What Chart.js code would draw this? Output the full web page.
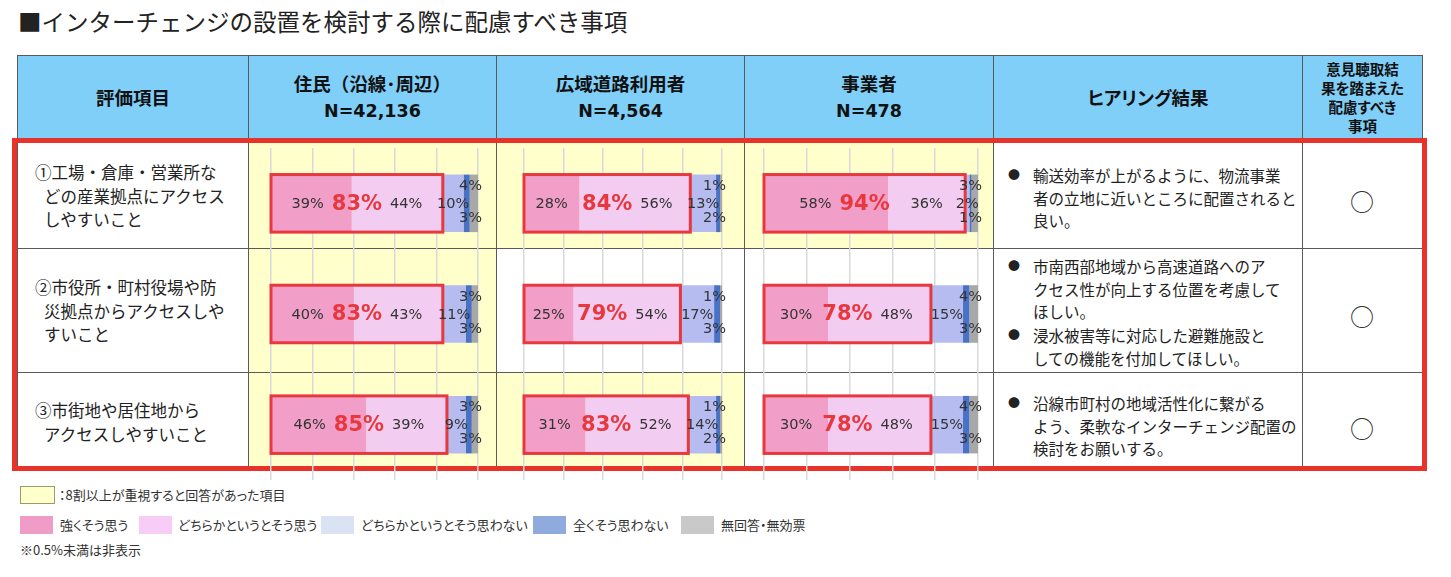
<!DOCTYPE html>
<html lang="ja">
<head>
<meta charset="utf-8">
<script src="https://cdn.jsdelivr.net/npm/chart.js@4.4.1/dist/chart.umd.min.js"></script>
<style>
body { margin: 0; background: #fff; font-family: "Noto Sans CJK JP", sans-serif; color: #222; }
#page { position: relative; width: 1451px; height: 577px; overflow: hidden; }
.abs { position: absolute; box-sizing: border-box; }
.head { background: #80CFF8; border: 1px solid #5a5a5a; display: flex; align-items: center; justify-content: center;
        text-align: center; font-weight: bold; font-size: 18.5px; line-height: 26px; color: #111; }
.head .n { font-family: "DejaVu Sans", sans-serif; font-size: 17.5px; }
.head .p { font-feature-settings: "palt"; }
.cell { border: 1px solid #5a5a5a; }
.item { font-size: 16.5px; line-height: 23.5px; color: #222; white-space: nowrap; }
.note { font-size: 15.5px; line-height: 22.5px; color: #222; white-space: nowrap; padding-left: 25px; }
.note .dot { position: absolute; left: 0; font-size: 12px; }
.lg { font-size: 13px; color: #333; font-feature-settings: "palt"; white-space: nowrap; line-height: 18px; }
canvas { position: absolute; }
</style>
</head>
<body>
<div id="page"></div>
<script>
// 回答者区分・評価項目
const groups = ['住民（沿線･周辺）', '広域道路利用者', '事業者'];
const groupN = ['N=42,136', 'N=4,564', 'N=478'];
const responses = ['強くそう思う', 'どちらかというとそう思う', 'どちらかというとそう思わない', '全くそう思わない', '無回答・無効票'];
const itemLabels = [
    ['①工場・倉庫・営業所な', 'どの産業拠点にアクセス', 'しやすいこと'],
    ['②市役所・町村役場や防', '災拠点からアクセスしや', 'すいこと'],
    ['③市街地や居住地から', 'アクセスしやすいこと']
];

// 回答割合 (%)  行 = 回答, 列 = 評価項目①②③
const residentValues = [
    [39, 40, 46],
    [44, 43, 39],
    [10, 11, 9],
    [3, 3, 3],
    [4, 3, 3]
];
const roadUserValues = [
    [28, 25, 31],
    [56, 54, 52],
    [13, 17, 14],
    [2, 3, 2],
    [1, 1, 1]
];
const businessValues = [
    [58, 30, 30],
    [36, 48, 48],
    [2, 15, 15],
    [1, 3, 3],
    [3, 4, 4]
];
const groupValues = [residentValues, roadUserValues, businessValues];

// ヒアリング結果・配慮事項
const hearingNotes = [
    [['輸送効率が上がるように、物流事業', '者の立地に近いところに配置されると', '良い。']],
    [['市南西部地域から高速道路へのア', 'クセス性が向上する位置を考慮して', 'ほしい。'], ['浸水被害等に対応した避難施設と', 'しての機能を付加してほしい。']],
    [['沿線市町村の地域活性化に繋がる', 'よう、柔軟なインターチェンジ配置の', '検討をお願いする。']]
];
const considerMarks = ['○', '○', '○'];
const threshold = 80; // 8割以上で黄色

const barColors = ['#F19EC9', '#F2CDF1', '#B6BCF0', '#4A72C4', '#A8A8A8'];
const legendColors = ['#F09CC8', '#F7CCF7', '#DAE3F3', '#8FAADC', '#C9C9C9'];

// レイアウト
const colX = [17, 248, 496, 744, 993, 1302, 1422];
const rowY = [138, 248, 372, 468];
const chartBoxes = [[267, 215], [520, 206], [760, 222]];
const itemTops = [161, 276, 399];
const noteTops = [[164], [255, 324], [392]];
const markTops = [183, 298, 410];

const page = document.getElementById('page');
function div(cls, x, y, w, h, html) {
    const d = document.createElement('div');
    d.className = 'abs ' + (cls || '');
    d.style.left = x + 'px'; d.style.top = y + 'px';
    if (w != null) d.style.width = w + 'px';
    if (h != null) d.style.height = h + 'px';
    if (html != null) d.innerHTML = html;
    page.appendChild(d);
    return d;
}

div('', 18, 4, null, null, '■インターチェンジの設置を検討する際に配慮すべき事項').style.cssText += 'font-size:23.5px;color:#222;white-space:nowrap;';

// ヘッダ
const headers = [
    '評価項目',
    groups[0] + '<br><span class="n">' + groupN[0] + '</span>',
    groups[1] + '<br><span class="n">' + groupN[1] + '</span>',
    groups[2] + '<br><span class="n">' + groupN[2] + '</span>',
    '<span class="p">ヒアリング結果</span>',
    '<span class="p" style="font-size:14.5px;line-height:19px;display:block">意見聴取結<br>果を踏まえた<br>配慮すべき<br>事項</span>'
];
headers.forEach((h, c) => div('head', colX[c], 55, colX[c + 1] - colX[c] + 1, 84, '<div>' + h + '</div>'));

// 本体セル
for (let r = 0; r < 3; r++) {
    for (let c = 0; c < 6; c++) {
        const cell = div('cell', colX[c], rowY[r], colX[c + 1] - colX[c] + 1, rowY[r + 1] - rowY[r] + 1);
        if (c >= 1 && c <= 3) {
            const v = groupValues[c - 1];
            if (v[0][r] + v[1][r] >= threshold) cell.style.background = '#FFFFCC';
        }
    }
    div('item', 35, itemTops[r], null, null, itemLabels[r].map((l, i) => i ? '<span style="padding-left:9px">' + l + '</span>' : l).join('<br>'));
    noteTops[r].forEach((t, k) => {
        div('note', 1008, t, null, null, '<span class="dot">●</span>' + hearingNotes[r][k].join('<br>'));
    });
    const m = div('', colX[5], markTops[r], colX[6] - colX[5], null, considerMarks[r]);
    m.style.cssText += 'text-align:center;font-size:24px;color:#333;';
}

// 赤枠
div('', 12, 138, 1415, 333).style.cssText += 'border:5px solid #E8332B;';

// 凡例
const yb = div('', 20, 486, 35, 18);
yb.style.cssText += 'background:#FFFFCC;border:1px solid #9a9a70;';
div('lg', 59, 486, null, null, '：8割以上が重視すると回答があった項目');
const legX = [[20, 60], [139, 178], [321, 361], [533, 573], [681, 721]];
responses.forEach((name, i) => {
    div('', legX[i][0], 516, 33, 18).style.background = legendColors[i];
    div('lg', legX[i][1], 516, null, null, name);
});
div('lg', 20, 541, null, null, '※0.5%未満は非表示');

// 割合ラベル
const labelPlugin = {
    id: 'pctLabels',
    afterDatasetsDraw(chart) {
        const ctx = chart.ctx;
        const xs = chart.scales.x;
        const vals = chart.data.datasets.map(ds => ds.data);
        const metas = chart.data.datasets.map((_, i) => chart.getDatasetMeta(i));
        const small = '14.5px "DejaVu Sans", sans-serif';
        const big = 'bold 21px "DejaVu Sans", sans-serif';
        ctx.save();
        ctx.textBaseline = 'middle';
        ctx.textAlign = 'center';
        chart.data.labels.forEach((_, i) => {
            const bar = metas[0].data[i];
            const yc = bar.y;
            const top = bar.y - bar.height / 2;
            const v = vals.map(d => d[i]);
            const p = [0, v[0], v[0] + v[1], v[0] + v[1] + v[2], 100].map(t => xs.getPixelForValue(t));
            const agree = v[0] + v[1];

            ctx.strokeStyle = '#E8383D';
            ctx.lineWidth = 3;
            ctx.strokeRect(p[0], top, p[2] - p[0], bar.height);

            ctx.font = big;
            const bw = ctx.measureText(agree + '%').width;
            const bc = (p[0] + p[2]) / 2;
            ctx.fillStyle = '#E8383D';
            ctx.fillText(agree + '%', bc, yc + 1);

            ctx.font = small;
            ctx.fillStyle = '#333';
            const put = (txt, cx, y, rightLimit) => {
                const w = ctx.measureText(txt).width;
                if (rightLimit != null && cx + w / 2 > rightLimit) cx = rightLimit - w / 2;
                ctx.fillText(txt, cx, y);
            };
            let t = v[0] + '%', w = ctx.measureText(t).width;
            let c1 = (p[0] + p[1]) / 2;
            if (c1 + w / 2 > bc - bw / 2 - 8) c1 = bc - bw / 2 - 8 - w / 2;
            ctx.fillText(t, c1, yc + 1);
            t = v[1] + '%'; w = ctx.measureText(t).width;
            let c2 = (p[1] + p[2]) / 2;
            if (c2 - w / 2 < bc + bw / 2 + 8) c2 = bc + bw / 2 + 8 + w / 2;
            ctx.fillText(t, c2, yc + 1);
            const edge = p[4] + 4;
            put(v[2] + '%', (p[2] + p[3]) / 2, yc + 1, edge);
            put(v[4] + '%', edge, yc - 17, edge);
            put(v[3] + '%', edge, yc + 15, edge);
        });
        ctx.restore();
    }
};

groupValues.forEach((vals, g) => {
    const cv = document.createElement('canvas');
    cv.width = chartBoxes[g][1];
    cv.height = 332;
    cv.style.left = chartBoxes[g][0] + 'px';
    cv.style.top = '148px';
    page.appendChild(cv);
    new Chart(cv, {
        type: 'bar',
        data: {
            labels: itemLabels.map(l => l[0].charAt(0)),
            datasets: responses.map((name, i) => ({
                label: name,
                data: vals[i],
                backgroundColor: barColors[i],
                borderWidth: 0,
                barPercentage: 0.52,
                categoryPercentage: 1
            }))
        },
        options: {
            indexAxis: 'y',
            responsive: false,
            animation: false,
            layout: { padding: { left: 4, right: 4, top: 0, bottom: 0 } },
            plugins: { legend: { display: false }, tooltip: { enabled: false } },
            scales: {
                x: {
                    stacked: true, min: 0, max: 100,
                    ticks: { display: false, stepSize: 20 },
                    grid: { color: '#D9D9D9', lineWidth: 1.5, drawTicks: false },
                    border: { display: false }
                },
                y: { stacked: true, display: false }
            }
        },
        plugins: [labelPlugin]
    });
});
</script>
</body>
</html>
